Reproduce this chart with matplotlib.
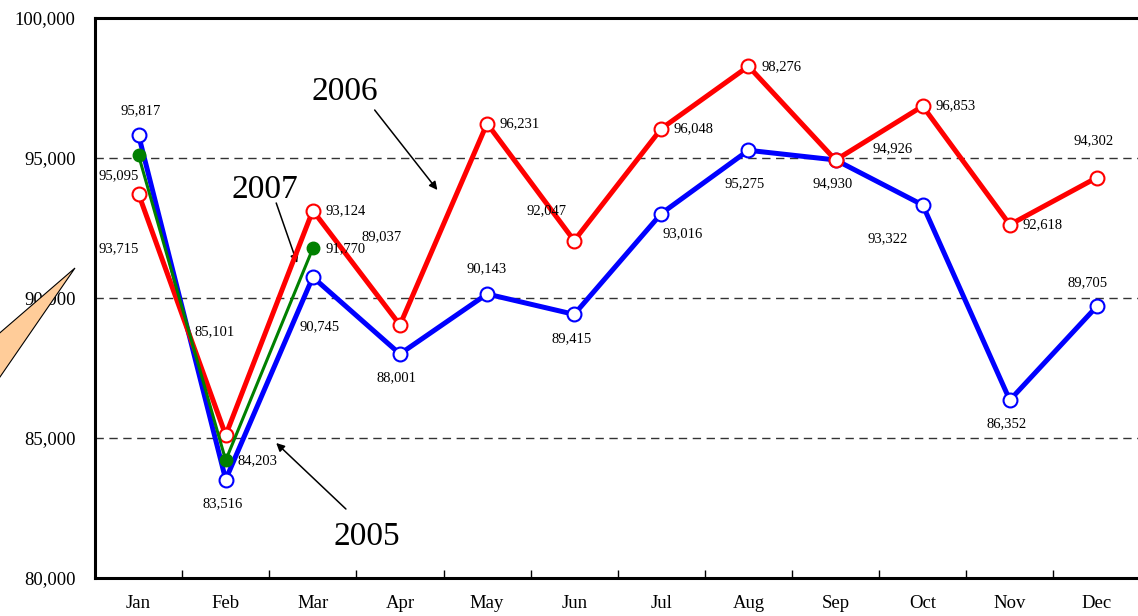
import numpy as np
import matplotlib
matplotlib.use('Agg')
import matplotlib.pyplot as plt
from matplotlib.patches import Polygon

months = ['Jan', 'Feb', 'Mar', 'Apr', 'May', 'Jun', 'Jul', 'Aug', 'Sep', 'Oct', 'Nov', 'Dec']
v2005 = [95817, 83516, 90745, 88001, 90143, 89415, 93016, 95275, 94930, 93322, 86352, 89705]
v2006 = [93715, 85101, 93124, 89037, 96231, 92047, 96048, 98276, 94926, 96853, 92618, 94302]
v2007 = [95095, 84203, 91770]

# label offsets in pixels (dx, dy), dy up positive
off2005 = [(2, 24), (-3, -24), (7, -50), (-3, -24), (0, 25), (-3, -24),
           (21, -20), (-4, -33), (-3, -24), (-35, -34), (-3, -24), (-9, 24)]
off2006 = [(-20, -55), (-11, 103), (33, 0), (-18, 88), (33, 0), (-28, 30),
           (32, 0), (33, 0), (57, 11), (33, 0), (33, 0), (-3, 37)]
off2007 = [(-20, -20), (32, 0), (33, 0)]

plt.rcParams['font.family'] = ['Liberation Serif', 'DejaVu Serif']

fig = plt.figure(figsize=(11.38, 6.16), dpi=100)
ax = fig.add_axes([95/1138, 38/616, 1045.5/1138, 560/616])

x = np.arange(len(months))
mk = dict(marker='o', markersize=10, markerfacecolor='white', markeredgewidth=1.5)
ax.plot(x, v2005, color='#0000ff', lw=3.6, zorder=3, **mk)
ax.plot(x, v2006, color='#ff0000', lw=3.6, zorder=4, **mk)
ax.plot(x[:len(v2007)], v2007, color='#008000', lw=2.2, marker='o', markersize=9,
        markerfacecolor='#008000', markeredgecolor='#008000', zorder=5)

def put_labels(vals, offs):
    for i, (v, (dx, dy)) in enumerate(zip(vals, offs)):
        ax.annotate(f'{v:,}', (i, v), xytext=(dx * 0.72, dy * 0.72), textcoords='offset points',
                    ha='center', va='center', fontsize=10.5, zorder=6)

put_labels(v2005, off2005)
put_labels(v2006, off2006)
put_labels(v2007, off2007)

ax.set_xlim(-0.5, 11.5)
ax.set_ylim(80000, 100000)
ax.set_yticks([80000, 85000, 90000, 95000, 100000])
ax.set_yticklabels([f'{t:,}' for t in [80000, 85000, 90000, 95000, 100000]], fontsize=13.5)
ax.tick_params(axis='y', length=0, pad=14)
ax.set_xticks(x)
ax.set_xticklabels(months, fontsize=13.5)
ax.tick_params(axis='x', which='major', length=0, pad=12)
ax.set_xticks(np.arange(0.5, 11, 1), minor=True)
ax.tick_params(axis='x', which='minor', direction='in', length=6, width=1)

for y in [85000, 90000, 95000]:
    ax.axhline(y, color='#333333', lw=1, ls=(0, (6, 4)), zorder=1)

for s in ['left', 'bottom', 'top']:
    ax.spines[s].set_linewidth(2.2)
ax.spines['right'].set_visible(False)

arrow = dict(arrowstyle='-|>', color='black', lw=1.1, mutation_scale=12, shrinkA=0, shrinkB=0)
ax.text(2.37, 97357, '2006', fontsize=24, ha='center', va='center')
ax.annotate('', xy=(3.43, 93857), xytext=(2.71, 96714), arrowprops=arrow)
ax.text(1.45, 93857, '2007', fontsize=24, ha='center', va='center')
ax.annotate('', xy=(1.82, 91250), xytext=(1.58, 93393), arrowprops=arrow)
ax.text(2.62, 81464, '2005', fontsize=24, ha='center', va='center')
ax.annotate('', xy=(1.58, 84821), xytext=(2.38, 82464), arrowprops=arrow)

# callout wedge on the left
pts = np.array([(75, 268), (-20, 350), (-20, 406)], dtype=float)
pts[:, 0] /= 1138
pts[:, 1] = 1 - pts[:, 1] / 616
fig.patches.append(Polygon(pts, closed=True, transform=fig.transFigure, facecolor='#ffcc99',
                           edgecolor='black', lw=0.8))

fig.savefig('out.png', dpi=100)
